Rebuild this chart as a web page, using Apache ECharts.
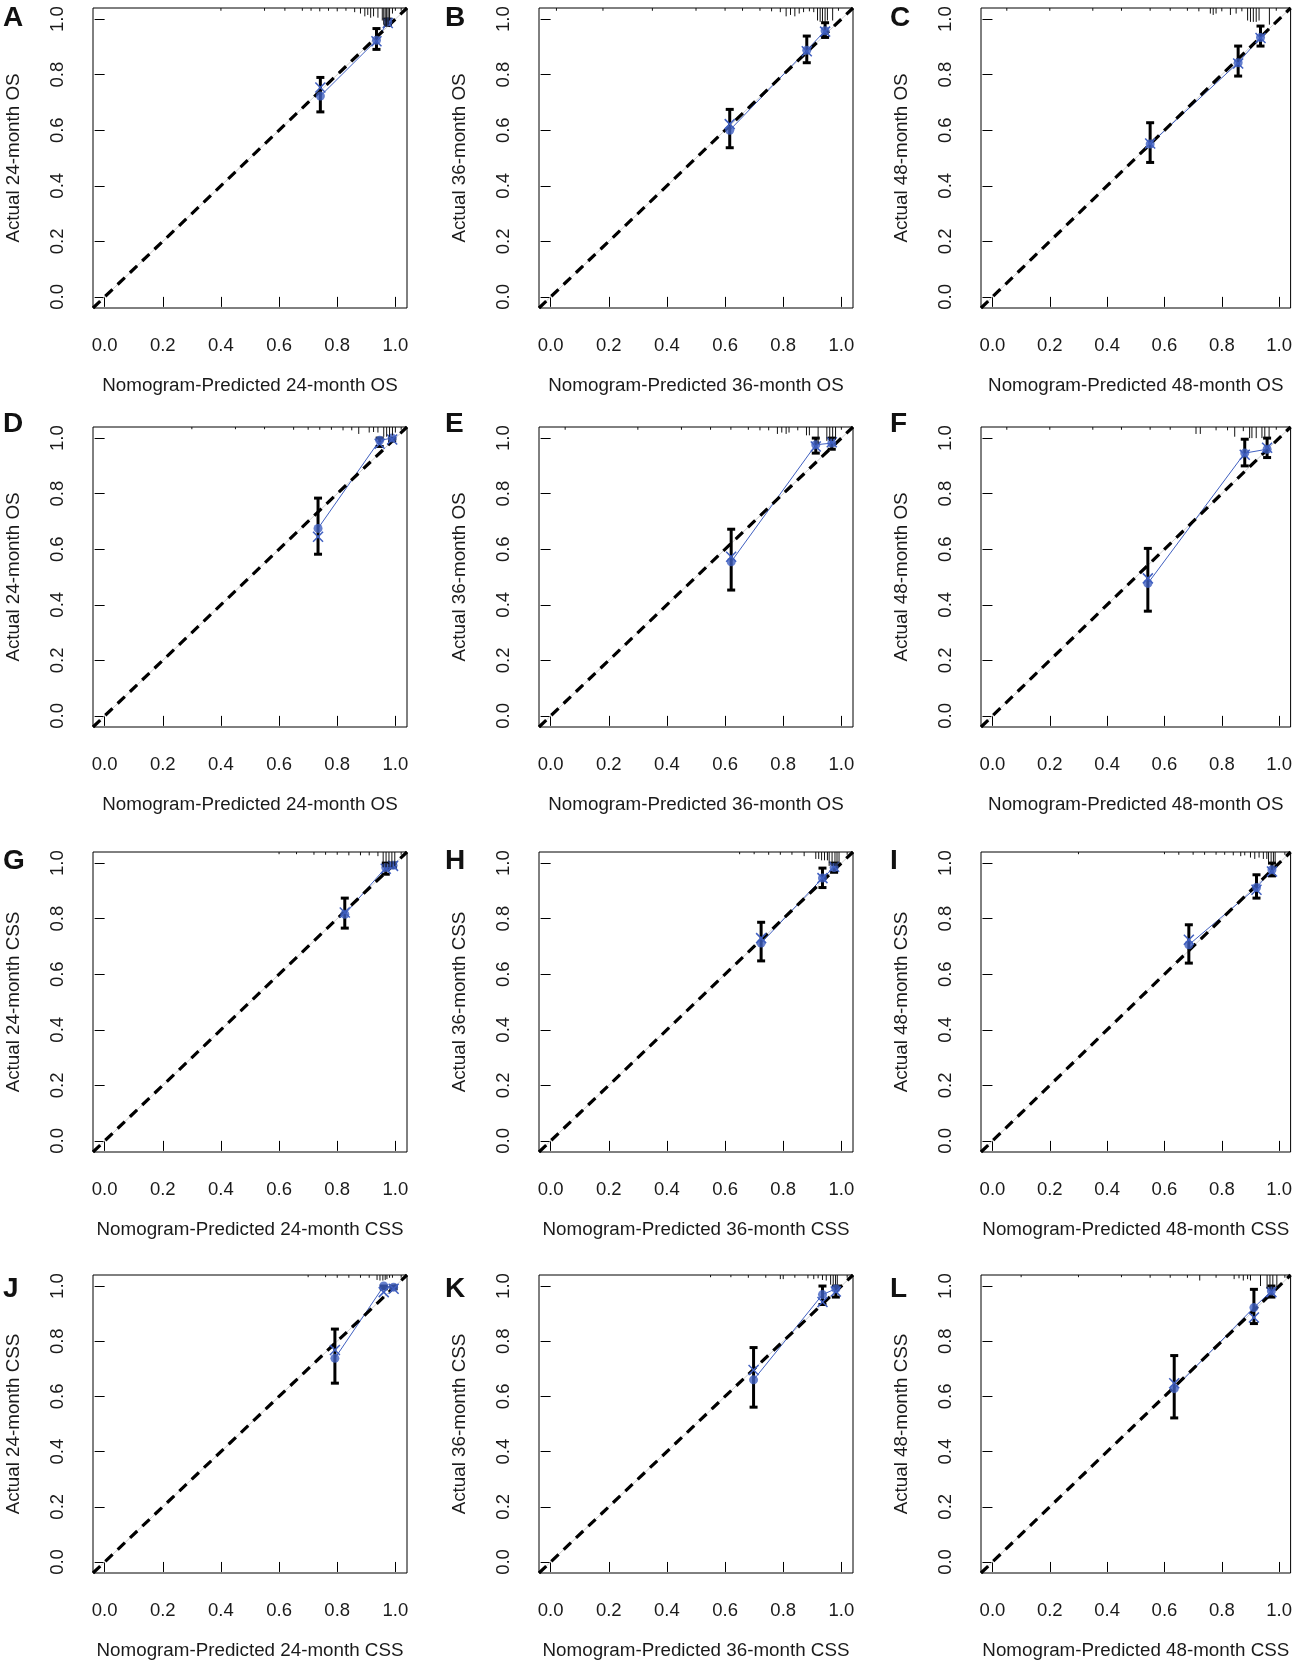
<!DOCTYPE html>
<html><head><meta charset="utf-8">
<script src="https://cdn.jsdelivr.net/npm/echarts@6/dist/echarts.min.js"></script>
<style>html,body{margin:0;padding:0;background:#fff}#c{width:1295px;height:1661px}</style>
</head><body><div id="c"></div>
<script>
// ---- data ----
const letters = ['A','B','C','D','E','F','G','H','I','J','K','L'];
const months  = [24,36,48,24,36,48,24,36,48,24,36,48];
const outcome = ['OS','OS','OS','OS','OS','OS','CSS','CSS','CSS','CSS','CSS','CSS'];
const tickValues = [0,0.2,0.4,0.6,0.8,1.0];

// nomogram-predicted (x) for the three groups of each panel
const predicted = [
  [0.742,0.935,0.974],[0.616,0.881,0.944],[0.550,0.857,0.935],
  [0.734,0.946,0.989],[0.621,0.912,0.967],[0.542,0.880,0.958],
  [0.826,0.967,0.992],[0.724,0.935,0.975],[0.685,0.921,0.975],
  [0.792,0.960,0.994],[0.698,0.935,0.981],[0.634,0.912,0.973]
];
// observed (Kaplan-Meier) actual survival
const observed = [
  [0.723,0.924,0.990],[0.600,0.888,0.958],[0.550,0.843,0.934],
  [0.675,0.992,1.000],[0.555,0.976,0.982],[0.477,0.946,0.960],
  [0.816,0.984,0.992],[0.712,0.946,0.984],[0.706,0.912,0.976],
  [0.738,1.000,0.996],[0.660,0.969,0.990],[0.628,0.922,0.982]
];
const ciLow = [
  [0.666,0.891,0.978],[0.537,0.843,0.934],[0.484,0.795,0.903],
  [0.582,0.970,0.990],[0.453,0.946,0.960],[0.377,0.900,0.930],
  [0.766,0.960,0.985],[0.648,0.912,0.967],[0.640,0.874,0.954],
  [0.648,0.990,0.990],[0.561,0.933,0.960],[0.522,0.864,0.960]
];
const ciHigh = [
  [0.790,0.966,1.000],[0.675,0.939,0.987],[0.627,0.903,0.975],
  [0.784,1.000,1.000],[0.672,1.000,1.000],[0.603,0.996,1.000],
  [0.874,1.000,1.000],[0.787,0.982,1.000],[0.778,0.958,1.000],
  [0.844,1.000,1.000],[0.777,1.000,1.000],[0.748,0.988,1.000]
];
// bias-corrected estimates (blue x)
const corrected = [
  [0.754,0.920,0.986],[0.622,0.884,0.955],[0.552,0.840,0.932],
  [0.645,0.980,0.995],[0.573,0.970,0.985],[0.495,0.940,0.965],
  [0.822,0.980,0.990],[0.730,0.946,0.987],[0.724,0.904,0.970],
  [0.768,0.978,0.990],[0.696,0.942,0.980],[0.648,0.886,0.978]
];
// distribution of predicted values: [x, tick length]
const rugs = [
  [[0.40,.01],[0.55,.01],[0.62,.01],[0.68,.01],[0.71,.01],[0.74,.012],[0.77,.01],[0.80,.012],[0.83,.01],[0.86,.015],[0.88,.02],[0.895,.03],[0.905,.025],[0.915,.035],[0.925,.03],[0.94,.035],[0.955,.045],[0.96,.06],[0.965,.065],[0.97,.065],[0.975,.06],[0.98,.045],[0.99,.02],[1.0,.01],[1.02,.01]],
  [[0.02,.01],[0.18,.01],[0.35,.01],[0.50,.01],[0.60,.01],[0.66,.01],[0.72,.01],[0.76,.012],[0.79,.015],[0.81,.03],[0.825,.025],[0.84,.03],[0.855,.02],[0.87,.015],[0.89,.012],[0.905,.015],[0.918,.045],[0.927,.05],[0.935,.05],[0.944,.05],[0.952,.045],[0.97,.045],[0.99,.01]],
  [[0.05,.01],[0.20,.01],[0.35,.01],[0.45,.01],[0.55,.01],[0.62,.01],[0.68,.01],[0.72,.012],[0.76,.02],[0.77,.025],[0.78,.02],[0.80,.012],[0.83,.025],[0.85,.02],[0.87,.012],[0.89,.045],[0.90,.05],[0.91,.05],[0.92,.05],[0.93,.045],[0.966,.06],[0.99,.01]],
  [[0.30,.008],[0.45,.008],[0.55,.008],[0.65,.01],[0.70,.01],[0.74,.01],[0.78,.01],[0.82,.012],[0.85,.012],[0.874,.025],[0.91,.02],[0.925,.018],[0.94,.02],[0.96,.035],[0.97,.035],[0.98,.035],[0.99,.03],[1.0,.02],[1.02,.01]],
  [[0.05,.01],[0.30,.01],[0.45,.01],[0.55,.01],[0.62,.01],[0.68,.01],[0.72,.012],[0.75,.012],[0.78,.025],[0.795,.02],[0.81,.025],[0.82,.02],[0.85,.012],[0.88,.03],[0.89,.03],[0.92,.06],[0.95,.05],[0.96,.05],[0.97,.05],[0.98,.045],[1.0,.01]],
  [[0.05,.01],[0.20,.01],[0.35,.01],[0.45,.01],[0.55,.01],[0.62,.01],[0.71,.025],[0.725,.025],[0.78,.012],[0.82,.012],[0.845,.035],[0.875,.015],[0.897,.04],[0.905,.04],[0.92,.04],[0.94,.04],[0.95,.04],[0.965,.04],[0.99,.01]],
  [[0.60,.008],[0.66,.008],[0.72,.01],[0.76,.01],[0.80,.01],[0.84,.012],[0.88,.012],[0.91,.012],[0.94,.015],[0.958,.055],[0.968,.055],[0.978,.055],[0.988,.055],[0.998,.05],[1.02,.01]],
  [[0.65,.008],[0.70,.008],[0.75,.01],[0.79,.01],[0.83,.01],[0.872,.015],[0.912,.025],[0.922,.025],[0.932,.03],[0.942,.03],[0.952,.03],[0.958,.05],[0.968,.05],[0.978,.05],[0.985,.05],[0.992,.045],[1.02,.01]],
  [[0.30,.008],[0.60,.008],[0.65,.01],[0.70,.01],[0.74,.01],[0.78,.01],[0.81,.01],[0.84,.012],[0.866,.015],[0.88,.012],[0.90,.02],[0.915,.025],[0.93,.02],[0.945,.025],[0.957,.025],[0.963,.04],[0.972,.04],[0.98,.04],[0.986,.04],[1.02,.01]],
  [[0.70,.008],[0.76,.008],[0.80,.01],[0.84,.01],[0.88,.01],[0.91,.01],[0.937,.018],[0.947,.02],[0.957,.02],[0.965,.018],[0.971,.015],[0.98,.01],[0.99,.01],[1.02,.01]],
  [[0.55,.008],[0.62,.008],[0.68,.01],[0.74,.01],[0.79,.015],[0.80,.015],[0.84,.01],[0.885,.012],[0.905,.015],[0.92,.012],[0.935,.018],[0.948,.02],[0.963,.035],[0.972,.035],[0.98,.035],[0.986,.035],[1.02,.01]],
  [[0.10,.008],[0.30,.008],[0.45,.008],[0.55,.01],[0.62,.01],[0.68,.01],[0.723,.02],[0.78,.01],[0.843,.015],[0.86,.012],[0.875,.02],[0.89,.015],[0.90,.02],[0.935,.04],[0.958,.05],[0.968,.05],[0.978,.05],[0.992,.045],[1.02,.01]]
];

// ---- layout ----
const colLeft = [93, 539, 981];
const rowTop  = [8, 427, 852, 1275];
const boxW = [314, 314, 312];
const boxH = 300;
const letterLeft = [3, 445, 890];
const letterTop  = [4, 410, 847, 1275];
const FONT = "'Liberation Sans', Arial, sans-serif";
const BLUE = '#3f5fc0';
const LIMLO = -0.04, LIMHI = 1.04;

const grids = [], xAxes = [], yAxes = [], series = [], titles = [];

letters.forEach((L, i) => {
  const r = Math.floor(i / 3), c = i % 3;
  grids.push({left: colLeft[c], top: rowTop[r], width: boxW[c], height: boxH,
    show: true, borderColor: '#000', borderWidth: 1, backgroundColor: 'transparent'});
  const common = {
    gridIndex: i, type: 'value', min: LIMLO, max: LIMHI,
    axisLine: {show: false}, splitLine: {show: false},
    axisTick: {show: true, inside: false, length: 10, lineStyle: {color: '#000', width: 1}, customValues: tickValues},
    nameLocation: 'middle',
    nameTextStyle: {fontFamily: FONT, fontSize: 18.8, color: '#1a1a1a'}
  };
  xAxes.push(Object.assign({}, common, {
    position: 'bottom',
    name: 'Nomogram-Predicted ' + months[i] + '-month ' + outcome[i],
    nameGap: 68,
    axisLabel: {customValues: tickValues, margin: 28, fontFamily: FONT, fontSize: 18.5, color: '#1a1a1a',
      formatter: v => v.toFixed(1)}
  }));
  yAxes.push(Object.assign({}, common, {
    position: 'left',
    name: 'Actual ' + months[i] + '-month ' + outcome[i],
    nameGap: 70,
    axisLabel: {customValues: tickValues, margin: 26, rotate: 90, fontFamily: FONT, fontSize: 18.5, color: '#1a1a1a',
      formatter: v => v.toFixed(1)}
  }));
  titles.push({text: L, left: letterLeft[c], top: letterTop[r], padding: 0,
    textStyle: {fontFamily: FONT, fontSize: 28, fontWeight: 'bold', color: '#111'}});

  const ax = {xAxisIndex: i, yAxisIndex: i};
  // ideal line (light gray)
  series.push(Object.assign({type: 'line', data: [[LIMLO, LIMLO], [LIMHI, LIMHI]], symbol: 'none',
    lineStyle: {color: '#cfcfcf', width: 1}, z: 1, silent: true}, ax));
  // observed line with points
  const pts = predicted[i].map((x, k) => [x, observed[i][k]]);
  series.push(Object.assign({type: 'line', data: pts, symbol: 'none',
    lineStyle: {color: BLUE, width: 1}, z: 2, silent: true}, ax));
  // dashed reference diagonal
  series.push(Object.assign({type: 'line', data: [[LIMLO, LIMLO], [LIMHI, LIMHI]], symbol: 'none',
    lineStyle: {color: '#000', width: 3.2, type: [10, 7]}, z: 3, silent: true}, ax));
  // error bars
  series.push(Object.assign({type: 'custom', z: 4, silent: true,
    data: predicted[i].map((x, k) => [x, ciLow[i][k], ciHigh[i][k]]),
    encode: {x: 0, y: [1, 2]},
    renderItem: (p, api) => {
      const x = api.value(0), a = api.coord([x, api.value(2)]), b = api.coord([x, api.value(1)]);
      const st = {stroke: '#000', lineWidth: 3};
      return {type: 'group', children: [
        {type: 'line', shape: {x1: a[0], y1: a[1], x2: b[0], y2: b[1]}, style: st},
        {type: 'line', shape: {x1: a[0]-4, y1: a[1], x2: a[0]+4, y2: a[1]}, style: st},
        {type: 'line', shape: {x1: b[0]-4, y1: b[1], x2: b[0]+4, y2: b[1]}, style: st}
      ]};
    }}, ax));
  // observed points
  series.push(Object.assign({type: 'scatter', data: pts, symbol: 'circle', symbolSize: 9,
    itemStyle: {color: BLUE}, z: 5, silent: true}, ax));
  // bias-corrected x marks
  series.push(Object.assign({type: 'custom', z: 6, silent: true,
    data: predicted[i].map((x, k) => [x, corrected[i][k]]),
    encode: {x: 0, y: 1},
    renderItem: (p, api) => {
      const q = api.coord([api.value(0), api.value(1)]), s = 5;
      const st = {stroke: BLUE, lineWidth: 1.5};
      return {type: 'group', children: [
        {type: 'line', shape: {x1: q[0]-s, y1: q[1]-s, x2: q[0]+s, y2: q[1]+s}, style: st},
        {type: 'line', shape: {x1: q[0]-s, y1: q[1]+s, x2: q[0]+s, y2: q[1]-s}, style: st}
      ]};
    }}, ax));
  // rug of predicted distribution hanging from the top
  series.push(Object.assign({type: 'custom', z: 7, silent: true,
    data: rugs[i], encode: {x: 0, y: 1},
    renderItem: (p, api) => {
      const x = api.value(0), len = api.value(1);
      const a = api.coord([x, LIMHI]), b = api.coord([x, LIMHI - len]);
      return {type: 'line', shape: {x1: a[0], y1: a[1], x2: b[0], y2: b[1]}, style: {stroke: '#111', lineWidth: 1}};
    }}, ax));
});

const chart = echarts.init(document.getElementById('c'), null, {renderer: 'canvas'});
chart.setOption({
  animation: false,
  backgroundColor: '#fff',
  title: titles,
  grid: grids,
  xAxis: xAxes,
  yAxis: yAxes,
  series: series
});
</script>
</body></html>
